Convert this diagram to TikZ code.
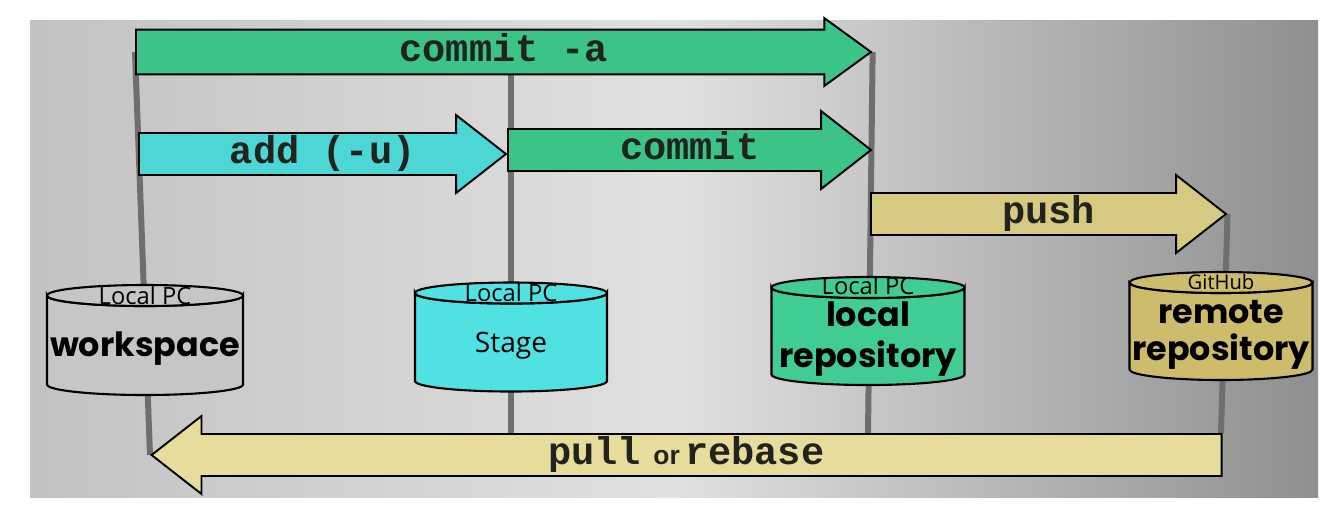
\documentclass[tikz,border=0pt]{standalone}
\usepackage{fontspec}
\usetikzlibrary{shapes.arrows,backgrounds,calc}
\newfontfamily\monofont{Liberation Mono}
\newfontfamily\geofont{Poppins}
\newfontfamily\uifont{Open Sans}
\newfontfamily\orfont{Liberation Sans}
\definecolor{colgray}{RGB}{110,110,110}
\definecolor{gitgreen}{RGB}{60,196,136}
\definecolor{gitcyan}{RGB}{76,214,214}
\definecolor{gitkhaki}{RGB}{214,202,130}
\definecolor{pullkhaki}{RGB}{230,220,156}
\definecolor{wsgray}{RGB}{198,198,198}
\definecolor{stagecyan}{RGB}{80,226,226}
\definecolor{lrgreen}{RGB}{64,204,146}
\definecolor{rrkhaki}{RGB}{204,188,108}
\definecolor{cmdink}{RGB}{34,34,30}

\begin{document}
\begin{tikzpicture}[x=0.2mm, y=-0.2mm,
  pics/repo/.style n args = {3}{code={% width, height, fill
    \filldraw[fill=#3, line width=1.2pt] (-#1/2,-#2/2+10.5) -- (-#1/2,#2/2-10.5)
      arc[start angle=180, end angle=0, x radius=#1/2, y radius=10.5] -- (#1/2,-#2/2+10.5)
      arc[start angle=0, end angle=180, x radius=#1/2, y radius=10.5] -- cycle;
    \filldraw[fill=#3, line width=1.2pt] (0,-#2/2+10.5) ellipse[x radius=#1/2, y radius=10.5];
    \coordinate (-top) at (0,-#2/2);
    \coordinate (-center) at (0,0);
    \coordinate (-bottom) at (0,#2/2);}},
  repotext/.style = {font=\geofont\bfseries\fontsize{19}{23}\selectfont, align=center},
  place/.style = {font=\uifont\fontsize{13.5}{15}\selectfont, inner sep=0pt},
  flow/.style = {single arrow, draw, line width=1.1pt, inner xsep=0pt, inner ysep=11.4pt,
    text height=0pt, text depth=0pt, single arrow tip angle=76, single arrow head extend=3.6mm},
  cmd/.style = {font=\monofont\bfseries\fontsize{22}{22}\selectfont, text=cmdink, inner sep=0pt,
    text height=11pt, text depth=0pt},
  column/.style = {draw=colgray, line width=1.2mm}]
\useasboundingbox (0,0) rectangle (1327,508);
\begin{scope}[on background layer]
  \fill[left color=black!24, right color=black!44, middle color=black!12] (30,20) rectangle (1318,497);
\end{scope}

% storage places
\pic (ws) at (145,340) {repo={196}{110}{wsgray}};
\pic (stage) at (511,337) {repo={192}{109}{stagecyan}};
\pic (lrepo) at (868,331) {repo={193}{108}{lrgreen}};
\pic (rrepo) at (1221,326) {repo={183}{108}{rrkhaki}};

\node[place] (wsplace) at ([yshift=-2.2mm]ws-top) {Local PC};
\node[place] (stageplace) at ([yshift=-2mm]stage-top) {Local PC};
\node[place] (lrepoplace) at ([yshift=-1.8mm]lrepo-top) {Local PC};
\node[place, font=\uifont\fontsize{11.5}{13}\selectfont] (rrepoplace) at ([yshift=-2mm]rrepo-top) {GitHub};

\node[repotext] (wsname) at ([yshift=-1.8mm]ws-center) {workspace};
\node[font=\uifont\fontsize{16}{18}\selectfont] (stagename) at ([yshift=-1.8mm]stage-center) {Stage};
\node[repotext] (lreponame) at ([yshift=-1.6mm]lrepo-center) {local\\repository};
\node[repotext, font=\geofont\bfseries\fontsize{19}{21}\selectfont] (rreponame) at ([yshift=-1.8mm]rrepo-center) {remote\\repository};

% git commands
\node[flow, fill=gitgreen, inner ysep=12.2pt, single arrow head extend=2.3mm, single arrow tip angle=72,
  minimum height=147mm, anchor=tail] (commitall) at (135,52) {};
\node[flow, fill=gitcyan, minimum height=73.4mm, anchor=tail] (add) at (138,154) {};
\node[flow, fill=gitgreen, minimum height=72.6mm, anchor=tail] (commit) at (507,150) {};
\node[flow, fill=gitkhaki, minimum height=71mm, anchor=tail] (push) at (870,214) {};
\node[flow, fill=pullkhaki, shape border rotate=180, minimum height=214mm, anchor=tip] (pull) at (150,455) {};

\node[cmd] (commitalltext) at ($(commitall.tail)!0.5!(commitall.tip)$) {commit -a};
\node[cmd] (addtext) at ($(add.tail)!0.5!(add.tip)$) {add (-u)};
\node[cmd] (committext) at ($(commit.tail)!0.5!(commit.tip)$) {commit};
\node[cmd] (pushtext) at ($(push.tail)!0.5!(push.tip)$) {push};
\node[cmd] (pulltext) at ($(pull.tail)!0.5!(pull.tip)$)
  {pull\hspace{7pt}{\orfont\bfseries\fontsize{15}{15}\selectfont or}\hspace{3pt}rebase};

\begin{scope}[on background layer]
  \draw[column] (commitall.tail) -- (pull.tip);
  \draw[column] (stage-top |- commitall.south) -- (stage-bottom |- pull.north);
  \draw[column] (commitall.tip) -- (lrepo-bottom |- pull.north);
  \draw[column] (push.tip) -- (rrepo-bottom |- pull.north);
\end{scope}
\end{tikzpicture}
\end{document}
